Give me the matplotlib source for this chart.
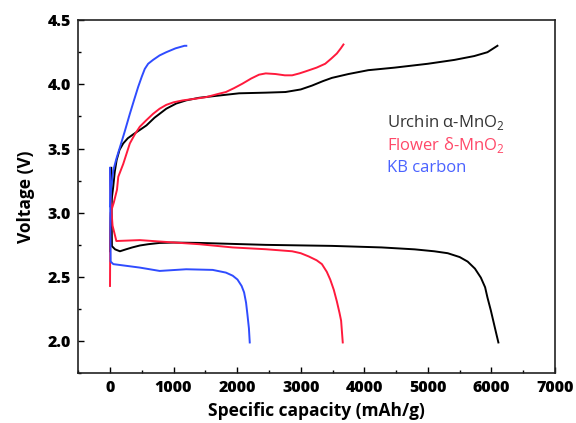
import numpy as np
import matplotlib
matplotlib.use("Agg")
import matplotlib.pyplot as plt

plt.rcParams['font.family'] = ['Open Sans', 'DejaVu Sans']
plt.rcParams['mathtext.fontset'] = 'custom'
plt.rcParams['mathtext.rm'] = 'Open Sans'

# Urchin alpha-MnO2
a_chg_x = [0, 5, 10, 25, 50, 75, 104, 150, 208, 280, 364, 470, 573, 700, 885, 1040, 1198, 1400,
           1667, 2031, 2448, 2760, 3000, 3177, 3350, 3490, 3750, 4062, 4479, 5000, 5417, 5729,
           5937, 6094]
a_chg_y = [2.70, 2.85, 2.96, 3.10, 3.20, 3.32, 3.41, 3.49, 3.54, 3.58, 3.61, 3.645, 3.68, 3.74,
           3.81, 3.85, 3.875, 3.895, 3.91, 3.93, 3.935, 3.94, 3.96, 3.99, 4.025, 4.05, 4.08, 4.11,
           4.13, 4.16, 4.19, 4.22, 4.25, 4.30]
a_dis_x = [20, 25, 30, 80, 156, 250, 350, 469, 600, 781, 1000, 1406, 2448, 3490, 4271, 4792,
           5100, 5312, 5500, 5625, 5740, 5833, 5900, 5937, 5990, 6042, 6080, 6109]
a_dis_y = [3.35, 3.0, 2.74, 2.715, 2.70, 2.715, 2.73, 2.745, 2.755, 2.765, 2.768, 2.765, 2.75,
           2.742, 2.73, 2.715, 2.70, 2.685, 2.655, 2.62, 2.565, 2.495, 2.42, 2.34, 2.24, 2.13,
           2.05, 1.99]

# Flower delta-MnO2
d_chg_x = [0, 4, 10, 60, 110, 130, 208, 260, 312, 390, 469, 570, 677, 780, 885, 1000, 1146,
           1300, 1510, 1700, 1823, 1950, 2083, 2220, 2344, 2450, 2604, 2750, 2865, 2980, 3073,
           3250, 3385, 3480, 3568, 3630, 3672]
d_chg_y = [2.43, 2.85, 3.0, 3.08, 3.18, 3.28, 3.38, 3.46, 3.54, 3.61, 3.67, 3.72, 3.77, 3.81,
           3.84, 3.86, 3.875, 3.885, 3.90, 3.925, 3.94, 3.97, 4.005, 4.045, 4.075, 4.085, 4.08,
           4.07, 4.07, 4.085, 4.10, 4.13, 4.16, 4.20, 4.24, 4.28, 4.31]
d_dis_x = [0, 10, 40, 100, 469, 781, 1406, 1927, 2448, 2865, 3000, 3125, 3250, 3333, 3410, 3464,
           3520, 3568, 3610, 3635, 3661]
d_dis_y = [3.34, 3.1, 2.9, 2.78, 2.787, 2.776, 2.755, 2.73, 2.716, 2.70, 2.685, 2.66, 2.63,
           2.60, 2.54, 2.48, 2.40, 2.31, 2.22, 2.16, 1.99]

# KB carbon
kb_chg_x = [0, 20, 52, 100, 156, 230, 312, 380, 443, 500, 547, 600, 677, 780, 885, 1030, 1172,
            1200]
kb_chg_y = [3.05, 3.2, 3.33, 3.42, 3.51, 3.63, 3.77, 3.88, 3.98, 4.06, 4.12, 4.16, 4.19, 4.225,
            4.25, 4.28, 4.30, 4.30]
kb_dis_x = [0, 5, 10, 52, 469, 781, 1198, 1615, 1823, 1930, 2005, 2070, 2109, 2140, 2161, 2185,
            2198]
kb_dis_y = [3.35, 2.9, 2.62, 2.60, 2.573, 2.547, 2.56, 2.555, 2.534, 2.51, 2.48, 2.43, 2.38,
            2.30, 2.21, 2.10, 1.99]

x_ticks = [0, 1000, 2000, 3000, 4000, 5000, 6000, 7000]
y_ticks = [2.0, 2.5, 3.0, 3.5, 4.0, 4.5]

labels = ['Urchin α-MnO$_\\mathregular{2}$', 'Flower δ-MnO$_\\mathregular{2}$', 'KB carbon']
line_colors = ['#000000', '#ff1a3c', '#2f4cff']
text_colors = ['#333333', '#ff4868', '#4a62ff']

fig = plt.figure(figsize=(5.76, 4.23), dpi=100)
ax = fig.add_axes([0.1358, 0.1175, 0.8278, 0.835])

series = [(a_chg_x, a_chg_y, a_dis_x, a_dis_y),
          (d_chg_x, d_chg_y, d_dis_x, d_dis_y),
          (kb_chg_x, kb_chg_y, kb_dis_x, kb_dis_y)]
for (cx, cy, dx, dy), c in zip(series, line_colors):
    ax.plot(cx, cy, color=c, lw=1.4)
    ax.plot(dx, dy, color=c, lw=1.4)

ax.set_xlim(-500, 7000)
ax.set_ylim(1.75, 4.5)
ax.set_xticks(x_ticks, [str(v) for v in x_ticks], fontweight='heavy', fontsize=11.5)
ax.set_xticks(np.arange(-500, 7001, 500), minor=True)
ax.set_yticks(y_ticks, ['%.1f' % v for v in y_ticks], fontweight='heavy', fontsize=11.5)
ax.set_yticks(np.arange(1.75, 4.51, 0.25), minor=True)
ax.tick_params(which='both', direction='in', top=False, right=False, width=1.0)
ax.tick_params(which='major', length=4.5, pad=5)
ax.tick_params(which='minor', length=2.3)
for s in ax.spines.values():
    s.set_linewidth(1.2)
    s.set_color('#222222')

ax.set_xlabel('Specific capacity (mAh/g)', fontsize=12.5, fontweight='bold', labelpad=4)
ax.set_ylabel('Voltage (V)', fontsize=12.5, fontweight='bold', labelpad=9)

for i, (lab, c) in enumerate(zip(labels, text_colors)):
    ax.text(0.648, 0.711 - i * 0.065, lab, color=c, fontsize=12,
            transform=ax.transAxes, va='center', ha='left')

fig.savefig('out.png', dpi=100)
